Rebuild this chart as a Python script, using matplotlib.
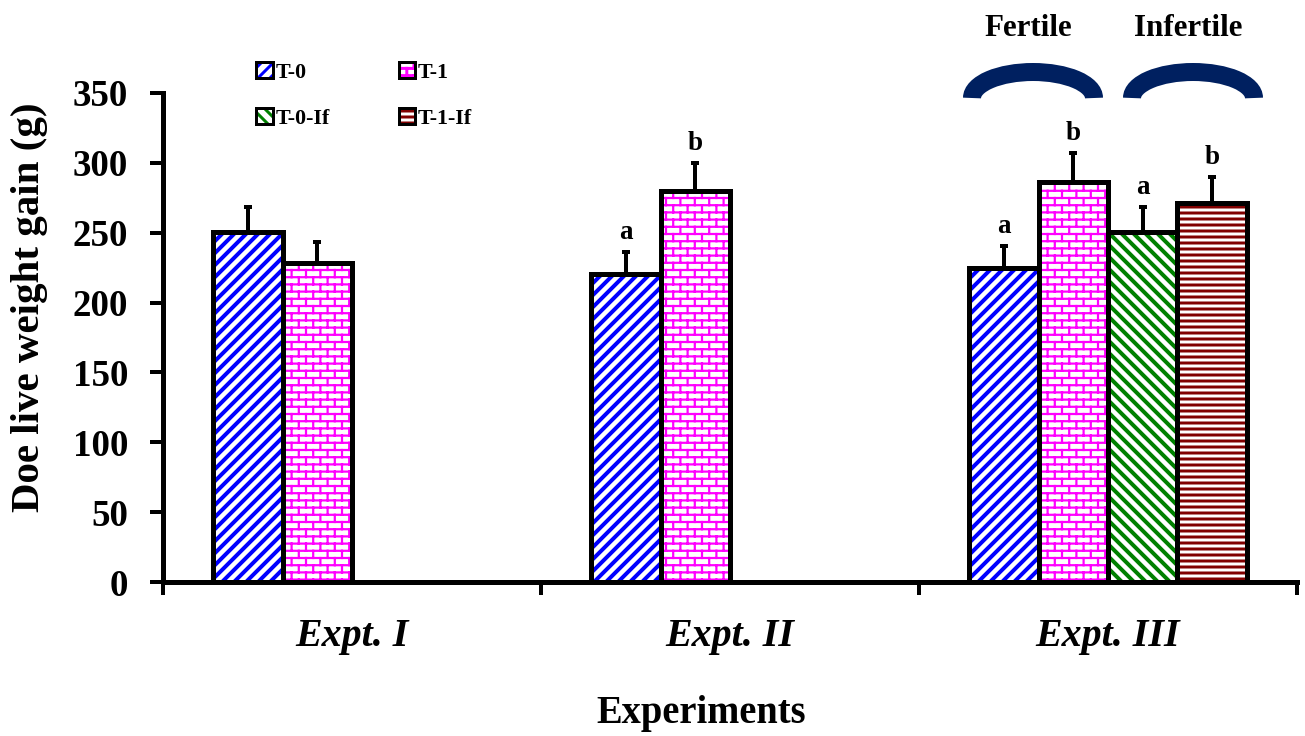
import numpy as np
import matplotlib
matplotlib.use('Agg')
import matplotlib.pyplot as plt
from matplotlib import hatch as mhatch
from matplotlib.path import Path
from matplotlib.patches import Patch, Arc


# brick pattern for the T-1 bars (takes the place of the '*' hatch)
class Bricks(mhatch.HatchPatternBase):
    rows, cols = 10, 5

    def __init__(self, hatch, density):
        self.on = '*' in hatch
        self.num_vertices = (self.rows * 2 + self.rows * self.cols * 2 + self.cols * 2) if self.on else 0

    def set_vertices_and_codes(self, vertices, codes):
        pts = []
        for i in range(self.rows):
            y = (i + 0.5) / self.rows
            pts += [(0, y), (1, y)]
        for i in range(self.rows + 1):
            y0, y1 = (i - 0.5) / self.rows, (i + 0.5) / self.rows
            for j in range(self.cols):
                x = (j + 0.25 + 0.5 * (i % 2)) / self.cols
                if i == 0:
                    pts += [(x, 0), (x, y1)]
                elif i == self.rows:
                    pts += [(x, y0), (x, 1)]
                else:
                    pts += [(x, y0), (x, y1)]
        vertices[:] = pts
        codes[0::2] = Path.MOVETO
        codes[1::2] = Path.LINETO


mhatch._hatch_types = [Bricks if t is mhatch.Stars else t for t in mhatch._hatch_types]

plt.rcParams['font.family'] = ['Liberation Serif', 'DejaVu Serif']
plt.rcParams['font.weight'] = 'bold'

groups = ['Expt. I', 'Expt. II', 'Expt. III']
series = ['T-0', 'T-1', 'T-0-If', 'T-1-If']

t0 = [250.3, 220.5, 224.5]
t0_err = [18.3, 15.5, 16.0]
t1 = [228.0, 280.0, 286.5]
t1_err = [15.0, 19.7, 20.5]
t0_if = [np.nan, np.nan, 250.3]
t0_if_err = [np.nan, np.nan, 18.3]
t1_if = [np.nan, np.nan, 271.0]
t1_if_err = [np.nan, np.nan, 19.0]

t0_sig = ['', 'a', 'a']
t1_sig = ['', 'b', 'b']
t0_if_sig = ['', '', 'a']
t1_if_sig = ['', '', 'b']

values = [t0, t1, t0_if, t1_if]
errors = [t0_err, t1_err, t0_if_err, t1_if_err]
letters = [t0_sig, t1_sig, t0_if_sig, t1_if_sig]
colors = ['#0000FF', '#FF00FF', '#008000', '#800000']
hatches = ['//', '*', '\\\\', '--']
hatch_lw = [4.0, 2.2, 4.0, 3.0]

W, H = 1305, 736
fig = plt.figure(figsize=(W / 72, H / 72), dpi=72)
ax = fig.add_axes([163 / W, 1 - 582 / H, (1297 - 163) / W, (582 - 93) / H])

centers = np.arange(len(groups)) + 0.5
width = 0.1833
handles = []
for k in range(len(series)):
    v = np.array(values[k], dtype=float)
    e = np.array(errors[k], dtype=float)
    ok = np.isfinite(v)
    x = centers[ok] + (k - 1.5) * width
    plt.rcParams['hatch.linewidth'] = hatch_lw[k]
    fill = ax.bar(x, v[ok], width, color='white', edgecolor=colors[k], hatch=hatches[k], linewidth=0, zorder=2)
    for b in fill:
        if hasattr(b, 'set_hatch_linewidth'):
            b.set_hatch_linewidth(hatch_lw[k])
    ax.bar(x, v[ok], width, fill=False, edgecolor='black', linewidth=5, zorder=3)
    ax.errorbar(x, v[ok], yerr=[np.zeros(ok.sum()), e[ok]], fmt='none', ecolor='black',
                elinewidth=4, capsize=4, capthick=4, zorder=4)
    for xi, top, lab in zip(x, v[ok] + e[ok], np.array(letters[k])[ok]):
        if lab:
            ax.annotate(lab, (xi, top), xytext=(0, 7), textcoords='offset points',
                        ha='center', va='bottom', fontsize=27, fontweight='bold')
    sw = Patch(facecolor='white', edgecolor=colors[k], hatch=hatches[k], linewidth=0)
    handles.append((sw, Patch(fill=False, edgecolor='black', linewidth=3)))

ax.set_xlim(0, 3)
ax.set_ylim(0, 350)
ax.set_yticks(np.arange(0, 351, 50))
ax.set_xticks([0, 1, 2, 3])
ax.set_xticklabels([])
ax.set_xticks(centers, minor=True)
ax.set_xticklabels(groups, minor=True, fontsize=40, fontstyle='italic', fontweight='bold')
ax.tick_params(axis='x', which='minor', length=0, pad=36)
ax.tick_params(axis='both', which='major', length=13, width=4, direction='out')
ax.tick_params(axis='y', labelsize=37, pad=22)
for s in ['top', 'right']:
    ax.spines[s].set_visible(False)
for s in ['left', 'bottom']:
    ax.spines[s].set_linewidth(5)

fig.text(30 / W, 1 - 307 / H, 'Doe live weight gain (g)', rotation=90, ha='center', va='center',
         fontsize=41, fontweight='bold')
fig.text(701 / W, 1 - 713 / H, 'Experiments', ha='center', va='center', fontsize=38.5, fontweight='bold')

# legend is filled column by column: reorder so rows read T-0, T-1 / T-0-If, T-1-If
order = [0, 2, 1, 3]
ax.legend([handles[i] for i in order], [series[i] for i in order], ncol=2, loc='upper left',
          bbox_to_anchor=(256 / W, 1 - 62 / H), bbox_transform=fig.transFigure, frameon=False,
          prop={'size': 22, 'weight': 'bold'}, handlelength=0.75, handleheight=0.75,
          handletextpad=0.12, columnspacing=3.15, labelspacing=1.15, borderpad=0, borderaxespad=0)

# Fertile / Infertile brackets over Expt. III
for cx, name in [(1033, 'Fertile'), (1193, 'Infertile')]:
    fig.patches.append(Arc((cx / W, 1 - 98 / H), 122 / W, 52 / H, theta1=0, theta2=180,
                           transform=fig.transFigure, color='#002060', linewidth=18))
    fig.text((cx - 5) / W, 1 - 28 / H, name, ha='center', va='center', fontsize=31, fontweight='bold')

fig.savefig('out.png', dpi=72)
